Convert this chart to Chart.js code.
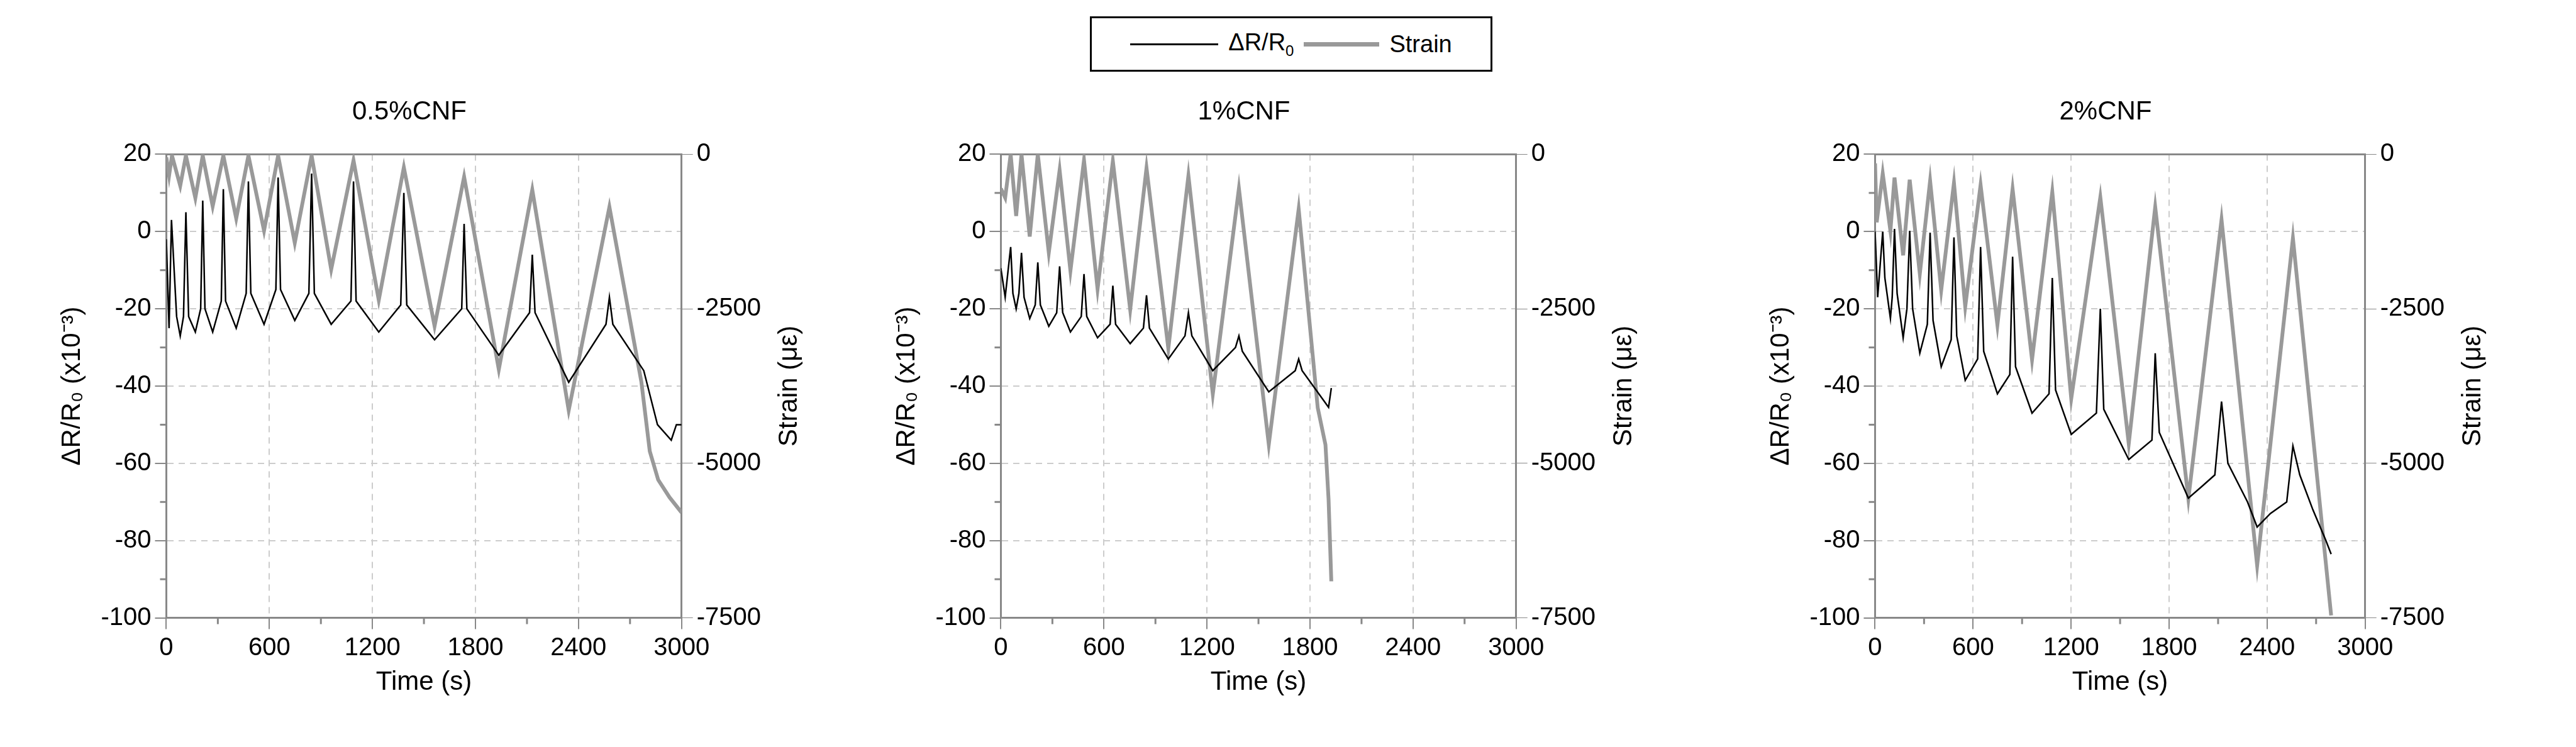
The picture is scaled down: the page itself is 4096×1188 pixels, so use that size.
<!DOCTYPE html>
<html><head><meta charset="utf-8">
<script src="https://cdn.jsdelivr.net/npm/chart.js@4"></script>
<style>
body{margin:0;width:4096px;height:1188px;background:#fff;position:relative;overflow:hidden;font-family:"Liberation Sans",Arial,sans-serif}
.p{position:absolute;top:130px;height:1058px}
#legend{position:absolute;left:1733px;top:26px;width:640px;height:88px;border:3px solid #000;box-sizing:border-box;display:flex;align-items:center;justify-content:center;font-size:38px;gap:16px}
.sw{display:inline-block;width:140px;vertical-align:middle}
</style></head><body>
<div id="legend"><span class="sw" style="border-top:3px solid #000"></span><span>ΔR/R<sub style="font-size:24px">0</sub></span><span class="sw" style="border-top:7px solid #999;width:120px"></span><span>Strain</span></div>
<div class="p" style="left:86px;width:1330px"><canvas id="c1"></canvas></div>
<div class="p" style="left:1413px;width:1330px"><canvas id="c2"></canvas></div>
<div class="p" style="left:2803px;width:1290px"><canvas id="c3"></canvas></div>
<script>
const titles=["0.5%CNF","1%CNF","2%CNF"];
const xTicks=[0,600,1200,1800,2400,3000];
const leftTicks=[20,0,-20,-40,-60,-80,-100];
const rightTicks=[0,-2500,-5000,-7500];

// Panel 1 (0.5% CNF)
const t1R=[0,16,30,60,81,100,114,130,169,200,212,225,270,320,332,345,407,465,478,492,569,638,651,665,748,830,846,862,960,1075,1090,1105,1237,1365,1383,1400,1562,1720,1734,1750,1936,2115,2131,2147,2343,2560,2580,2600,2780,2860,2940,2970,3000];
const r1=[-2,-25,3,-22,-27,-22,5,-22,-26,-20,8,-20,-26,-18,11,-18,-25,-16,13,-16,-24,-15,14,-15,-23,-16,15,-16,-24,-18,13,-18,-26,-19,10,-19,-28,-20,2,-20,-32,-21,-6,-21,-39,-24,-17,-24,-36,-50,-54,-50,-50];
const t1S=[0,16,33,81,114,169,212,270,332,407,478,569,651,748,846,960,1090,1237,1383,1562,1734,1936,2131,2343,2580,2766,2815,2864,2930,3000];
const s1=[-50,-344,-20,-509,-20,-707,-20,-839,-20,-1037,-20,-1235,-20,-1434,-20,-1863,-99,-2359,-211,-2780,-363,-3482,-575,-4143,-852,-3680,-4804,-5266,-5550,-5795];

// Panel 2 (1% CNF)
const t2R=[0,25,57,70,89,105,120,135,168,200,215,230,279,325,342,360,405,468,484,500,563,636,652,668,753,830,848,865,975,1072,1092,1112,1234,1366,1386,1406,1560,1714,1734,1754,1908,1924];
const r2=[-9.5,-17,-4,-16,-20,-16,-5.5,-17,-22.5,-19,-8,-19,-24.5,-21,-9,-21,-26,-22,-11,-22,-27.5,-24,-14,-24,-29,-25,-16.5,-25,-33,-27,-21,-27,-36,-30,-27,-31,-41.5,-36,-33,-36,-45.5,-40.5];
const t2S=[0,25,57,89,120,168,215,279,342,405,484,563,652,753,848,975,1092,1234,1386,1560,1734,1845,1890,1908,1924];
const s2=[-554,-702,0,-998,0,-1330,0,-1589,-259,-1884,-96,-2180,-111,-2512,-222,-3140,-347,-3879,-554,-4692,-887,-4101,-4700,-5579,-6909];

// Panel 3 (2% CNF)
const t3R=[0,16,47,60,94,105,119,135,172,195,212,230,274,320,337,355,405,466,483,500,552,628,646,665,749,825,842,860,961,1065,1085,1105,1201,1355,1379,1400,1553,1695,1715,1740,1918,2000,2080,2121,2160,2280,2339,2420,2520,2558,2600,2680,2760,2792];
const r3=[0,-17,0,-12,-22.5,-17,0.7,-16,-27.5,-20,0.2,-20,-31.5,-24,-0.3,-23,-35,-28,-1.5,-27,-38.5,-33,-4,-31,-42,-37,-6.5,-35,-47,-42,-12,-41,-52.5,-47,-20,-46,-59,-54,-31.5,-52,-69,-66,-63,-44,-60,-70,-76.5,-73,-70,-55.5,-63,-72,-80,-83.5];
const t3S=[0,10,47,94,119,172,212,274,337,405,483,552,646,749,842,961,1085,1201,1379,1553,1715,1918,2121,2339,2558,2792];
const s3=[-146,-1100,-311,-1238,-377,-1635,-410,-1933,-430,-2198,-463,-2463,-497,-2761,-563,-3323,-609,-3952,-695,-4680,-854,-5574,-1059,-6653,-1357,-7461];

const F='"Liberation Sans", Arial, sans-serif';
const pts=(t,v)=>t.map((x,i)=>({x:x,y:v[i]}));

const extras={id:'extras',afterDraw(c){
  const ctx=c.ctx,a=c.chartArea,x=c.scales.x,y=c.scales.y;
  ctx.save();ctx.strokeStyle='#888';ctx.lineWidth=3;
  for(let v=300;v<3000;v+=600){const px=x.getPixelForValue(v);ctx.beginPath();ctx.moveTo(px,a.bottom);ctx.lineTo(px,a.bottom+10);ctx.stroke();}
  for(let v=10;v>-100;v-=20){const py=y.getPixelForValue(v);ctx.beginPath();ctx.moveTo(a.left,py);ctx.lineTo(a.left-10,py);ctx.stroke();}
  ctx.fillStyle='#000';ctx.font='42px '+F;ctx.translate(a.right+172,(a.top+a.bottom)/2);ctx.rotate(-Math.PI/2);ctx.textAlign='center';ctx.textBaseline='middle';ctx.fillText('Strain (με)',0,0);
  ctx.restore();
}};

function make(id,title,tr,r,ts,s){
  new Chart(document.getElementById(id),{type:'line',
    data:{datasets:[
      {label:'ΔR/R0',data:pts(tr,r),yAxisID:'y',borderColor:'#000',borderWidth:2.5,pointRadius:0,tension:0,order:1},
      {label:'Strain',data:pts(ts,s),yAxisID:'y2',borderColor:'#999',borderWidth:6,pointRadius:0,tension:0,order:2}]},
    options:{responsive:false,animation:false,devicePixelRatio:1,
      layout:{padding:{left:0,right:200,top:13,bottom:73}},
      plugins:{legend:{display:false},tooltip:{enabled:false},
        title:{display:true,text:title,font:{family:F,size:42,weight:'normal'},color:'#000',padding:{top:10,bottom:34}}},
      scales:{
        x:{type:'linear',min:0,max:3000,afterBuildTicks:s=>{s.ticks=xTicks.map(v=>({value:v}))},
          grid:{color:'#ccc',lineWidth:2,tickColor:'#888',tickLength:18},
          border:{color:'#888',width:3,dash:[10,8]},
          ticks:{color:'#000',font:{family:F,size:40},padding:6,maxRotation:0,callback:v=>String(v)},
          title:{display:true,text:'Time (s)',color:'#000',font:{family:F,size:42},padding:{top:0}}},
        y:{position:'left',min:-100,max:20,afterBuildTicks:s=>{s.ticks=leftTicks.map(v=>({value:v}))},
          grid:{color:'#ccc',lineWidth:2,tickColor:'#888',tickLength:18},
          border:{color:'#888',width:3,dash:[10,8]},
          ticks:{color:'#000',font:{family:F,size:40},padding:6,callback:v=>String(v)},
          title:{display:true,text:'ΔR/R₀ (x10⁻³)',color:'#000',font:{family:F,size:42},padding:{bottom:14}}},
        y2:{position:'right',min:-7500,max:0,afterBuildTicks:s=>{s.ticks=rightTicks.map(v=>({value:v}))},
          grid:{drawOnChartArea:false,tickColor:'#888',tickLength:18},
          border:{color:'#888',width:3},
          ticks:{color:'#000',font:{family:F,size:40},padding:6,callback:v=>String(v)}},
        top:{position:'top',type:'linear',min:0,max:3000,grid:{display:false},border:{color:'#888',width:3},ticks:{display:false}}
      }}, plugins:[extras]});
}
[['c1',t1R,r1,t1S,s1],['c2',t2R,r2,t2S,s2],['c3',t3R,r3,t3S,s3]].forEach((p,i)=>{
  const cv=document.getElementById(p[0]);cv.width=p[0]==='c3'?1290:1330;cv.height=1058;
  make(p[0],titles[i],p[1],p[2],p[3],p[4]);
});
</script></body></html>
